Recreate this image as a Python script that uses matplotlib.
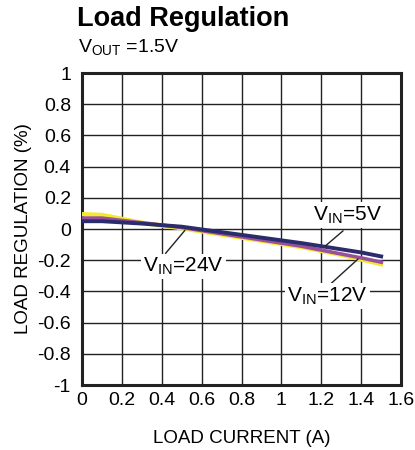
import numpy as np
import matplotlib.pyplot as plt

plt.rcParams['font.family'] = ['Liberation Sans', 'DejaVu Sans']

# load current (A) and load regulation (%)
i_5v = [0.0, 0.1, 0.3, 0.5, 0.7, 0.9, 1.1, 1.3, 1.4, 1.51]
reg_5v = [0.05, 0.05, 0.035, 0.015, -0.02, -0.055, -0.09, -0.13, -0.15, -0.178]

i_12v = [0.0, 0.1, 0.3, 0.5, 0.7, 0.9, 1.1, 1.3, 1.4, 1.51]
reg_12v = [0.07, 0.07, 0.04, 0.01, -0.03, -0.07, -0.11, -0.16, -0.185, -0.215]

i_24v = [0.0, 0.1, 0.3, 0.5, 0.7, 0.9, 1.1, 1.3, 1.4, 1.51]
reg_24v = [0.095, 0.09, 0.04, 0.005, -0.035, -0.075, -0.115, -0.165, -0.195, -0.228]

x_ticks = [0, 0.2, 0.4, 0.6, 0.8, 1, 1.2, 1.4, 1.6]
x_labels = ['0', '0.2', '0.4', '0.6', '0.8', '1', '1.2', '1.4', '1.6']
y_ticks = [-1, -0.8, -0.6, -0.4, -0.2, 0, 0.2, 0.4, 0.6, 0.8, 1]
y_labels = ['-1', '-0.8', '-0.6', '-0.4', '-0.2', '0', '0.2', '0.4', '0.6', '0.8', '1']

fig = plt.figure(figsize=(4.15, 4.5), dpi=100)
ax = fig.add_axes([0.1976, 0.1444, 0.7687, 0.6933])

ax.plot(i_24v, reg_24v, color='#f2ea2c', lw=3.2, solid_capstyle='butt', zorder=3)
ax.plot(i_12v, reg_12v, color='#9a4f9e', lw=2.6, solid_capstyle='butt', zorder=4)
ax.plot(i_5v, reg_5v, color='#2b2c6b', lw=2.8, solid_capstyle='butt', zorder=5)

ax.set_xlim(0, 1.6)
ax.set_ylim(-1, 1)
ax.set_xticks(x_ticks)
ax.set_xticklabels(x_labels)
ax.set_yticks(y_ticks)
ax.set_yticklabels(y_labels)
ax.tick_params(length=0, labelsize=14)
ax.tick_params(axis='x', pad=5)
ax.tick_params(axis='y', pad=8)
ax.grid(True, color='#222222', lw=1.0)
ax.set_axisbelow(True)
for s in ax.spines.values():
    s.set_linewidth(2.2)
    s.set_color('#222222')

ax.set_xlabel('LOAD CURRENT (A)', fontsize=13.5, labelpad=15)
ax.set_ylabel('LOAD REGULATION (%)', fontsize=13.5, labelpad=4)

box = dict(facecolor='white', edgecolor='none', pad=1.5)
# leader lines
ax.annotate('', xy=(1.21, -0.12), xytext=(1.32, -0.0), zorder=6,
            arrowprops=dict(arrowstyle='-', color='#222222', lw=1))
ax.annotate('', xy=(0.525, 0.005), xytext=(0.41, -0.17), zorder=6,
            arrowprops=dict(arrowstyle='-', color='#222222', lw=1))
ax.annotate('', xy=(1.395, -0.18), xytext=(1.24, -0.36), zorder=6,
            arrowprops=dict(arrowstyle='-', color='#222222', lw=1))

ax.text(1.33, 0.09, r'V$_{\mathregular{IN}}$=5V', fontsize=15, ha='center', va='center',
        bbox=box, zorder=7)
ax.text(0.51, -0.24, r'V$_{\mathregular{IN}}$=24V', fontsize=15, ha='center', va='center',
        bbox=box, zorder=7)
ax.text(1.23, -0.43, r'V$_{\mathregular{IN}}$=12V', fontsize=15, ha='center', va='center',
        bbox=box, zorder=7)

fig.text(0.186, 0.957, 'Load Regulation', fontsize=19.5, fontweight='bold', va='center')
fig.text(0.188, 0.893, r'V$_{\mathregular{OUT}}$ =1.5V', fontsize=14, va='center')

fig.savefig('out.png', dpi=100)
